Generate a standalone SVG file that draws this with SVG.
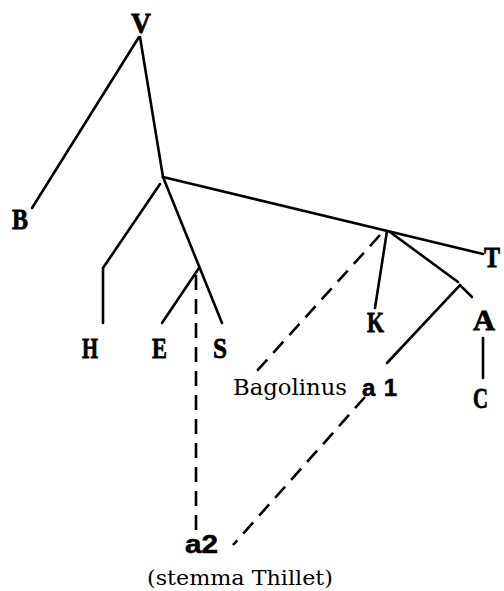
<svg xmlns="http://www.w3.org/2000/svg" width="504" height="591" viewBox="0 0 504 591">
<style>
.ln{fill:none;stroke:#000;stroke-width:2.6;stroke-linecap:round}
.ds{fill:none;stroke:#000;stroke-width:2.6;stroke-dasharray:15 9}
.sig{font-family:"Liberation Serif",serif;font-weight:bold;font-size:30px;fill:#000;stroke:#000;stroke-width:0.8}
.hyp{font-family:"Liberation Sans",sans-serif;font-weight:bold;fill:#000;stroke:#000;stroke-width:0.5}
.reg{font-family:"DejaVu Serif",serif;fill:#000}
</style>
<rect width="504" height="591" fill="#fff"/>
<g id="connectors">
<line class="ln" x1="139" y1="37" x2="32" y2="208"/>
<line class="ln" x1="140" y1="37" x2="163" y2="177"/>
<line class="ln" x1="163" y1="177" x2="483" y2="254"/>
<polyline class="ln" points="160,184 103,268 103,323"/>
<line class="ln" x1="163" y1="177" x2="222" y2="323"/>
<line class="ln" x1="199" y1="268" x2="162" y2="323"/>
<line class="ln" x1="387" y1="231" x2="375" y2="308"/>
<line class="ln" x1="390" y1="232" x2="458" y2="282"/>
<polyline class="ln" points="387,363 460,285 472,297"/>
<line class="ln" x1="483" y1="338" x2="483" y2="378"/>
<line class="ds" x1="196" y1="275" x2="196" y2="532"/>
<line class="ds" x1="380" y1="235" x2="255" y2="373"/>
<line class="ds" x1="365" y1="397" x2="233" y2="545"/>
</g>
<g id="V"><text class="sig" x="131" y="33" textLength="20" lengthAdjust="spacingAndGlyphs">V</text></g>
<g id="B"><text class="sig" x="12" y="229" textLength="16" lengthAdjust="spacingAndGlyphs">B</text></g>
<g id="H"><text class="sig" x="82" y="358" textLength="16" lengthAdjust="spacingAndGlyphs">H</text></g>
<g id="E"><text class="sig" x="152" y="358" textLength="15" lengthAdjust="spacingAndGlyphs">E</text></g>
<g id="S"><text class="sig" x="213" y="358" textLength="14" lengthAdjust="spacingAndGlyphs">S</text></g>
<g id="K"><text class="sig" x="367" y="332" textLength="17" lengthAdjust="spacingAndGlyphs">K</text></g>
<g id="T"><text class="sig" x="484" y="267" textLength="16" lengthAdjust="spacingAndGlyphs">T</text></g>
<g id="A"><text class="sig" x="473" y="330" textLength="22" lengthAdjust="spacingAndGlyphs">A</text></g>
<g id="C"><text class="sig" x="473" y="408" textLength="15" lengthAdjust="spacingAndGlyphs">C</text></g>
<g id="a1">
<text class="reg" x="233" y="395" font-size="22" textLength="114" lengthAdjust="spacingAndGlyphs">Bagolinus</text>
<text class="hyp" x="362" y="396" font-size="24" textLength="35" lengthAdjust="spacing">a1</text>
</g>
<g id="a2">
<text class="hyp" x="185" y="553" font-size="25" textLength="33" lengthAdjust="spacingAndGlyphs">a2</text>
<text class="reg" x="147" y="585" font-size="20" textLength="186" lengthAdjust="spacingAndGlyphs">(stemma Thillet)</text>
</g>
</svg>
